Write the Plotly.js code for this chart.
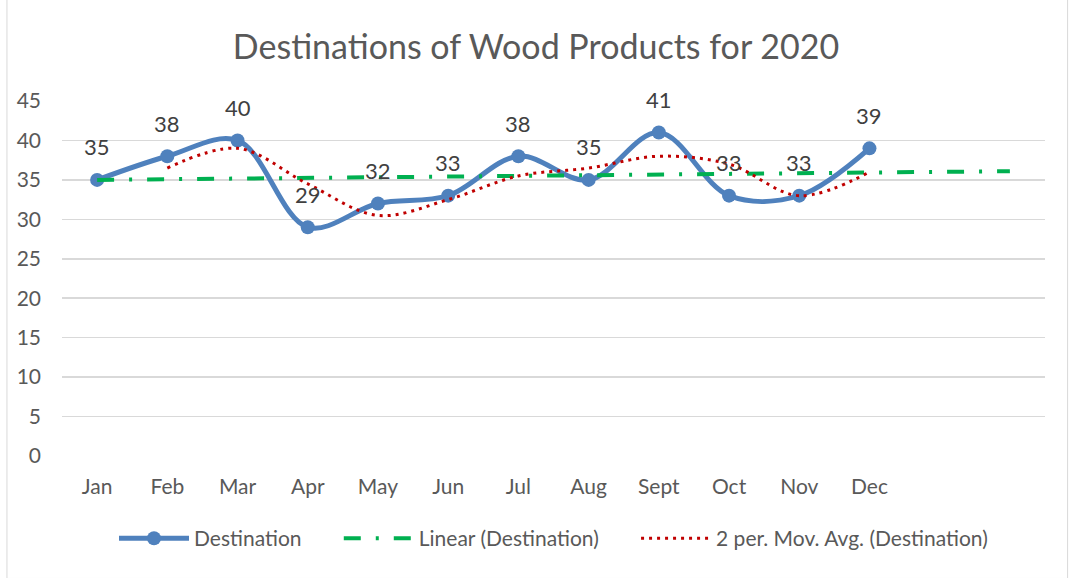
<!DOCTYPE html>
<html>
<head>
<meta charset="utf-8">
<script src="https://cdn.plot.ly/plotly-3.0.1.min.js"></script>
<style>
  html, body { margin: 0; padding: 0; background: #fff; }
  #chart { width: 1072px; height: 578px; }
</style>
</head>
<body>
<div id="chart"></div>
<script>
// Destinations of Wood Products for 2020
var months = ['Jan', 'Feb', 'Mar', 'Apr', 'May', 'Jun', 'Jul', 'Aug', 'Sept', 'Oct', 'Nov', 'Dec'];
var monthPos = [1, 2, 3, 4, 5, 6, 7, 8, 9, 10, 11, 12];
var destination = [35, 38, 40, 29, 32, 33, 38, 35, 41, 33, 33, 39];

// linear trendline, forecast 2 periods forward
var trendPos = [1, 14];
var trendVal = [35.0, 36.1];

// 2 period moving average (starts at Feb)
var maPos = [2, 3, 4, 5, 6, 7, 8, 9, 10, 11, 12];
var maVal = [36.5, 39, 34.5, 30.5, 32.5, 35.5, 36.5, 38, 37, 33, 36];

var font = 'Lato, "Open Sans", sans-serif';
var textColor = '#595959';
var pad = '\u00a0\u00a0\u00a0\u00a0\u00a0\u00a0';

var main = {
  x: monthPos,
  y: destination,
  mode: 'lines+markers',
  type: 'scatter',
  line: {color: '#4f81bd', width: 5, shape: 'spline', smoothing: 1},
  marker: {color: '#4f81bd', size: 14},
  name: 'Destination' + pad
};
var linear = {
  x: trendPos,
  y: trendVal,
  mode: 'lines',
  type: 'scatter',
  line: {color: '#00b050', width: 4, dash: '17px,15px,3px,15px'},
  name: 'Linear (Destination)' + pad
};
var movAvg = {
  x: maPos,
  y: maVal,
  mode: 'lines',
  type: 'scatter',
  line: {color: '#c00000', width: 3, dash: '3px,5px', shape: 'spline', smoothing: 1},
  name: '2 per. Mov. Avg. (Destination)'
};

var labels = destination.map(function (v, i) {
  return {
    x: monthPos[i], y: v, text: String(v),
    showarrow: false, yshift: 33, yanchor: 'middle',
    font: {family: font, size: 22, color: '#404040'}
  };
});

var layout = {
  width: 1072,
  height: 578,
  paper_bgcolor: '#fff',
  plot_bgcolor: '#fff',
  margin: {l: 62, r: 27, t: 101, b: 122},
  title: {
    text: 'Destinations of Wood Products for 2020',
    font: {family: font, size: 34, color: textColor},
    x: 0.5, xanchor: 'center', y: 0.918, yanchor: 'middle'
  },
  xaxis: {
    range: [0.5, 14.5],
    tickvals: monthPos,
    ticktext: months,
    showgrid: false,
    zeroline: false,
    showline: false,
    ticks: '',
    ticklabelstandoff: 16,
    tickfont: {family: font, size: 21, color: textColor}
  },
  yaxis: {
    range: [0, 45],
    dtick: 5,
    gridcolor: '#d9d9d9',
    gridwidth: 1.5,
    zeroline: false,
    showline: false,
    ticks: '',
    ticklabelstandoff: 20,
    tickfont: {family: font, size: 21, color: textColor}
  },
  showlegend: true,
  legend: {
    orientation: 'h',
    x: 0.5, xanchor: 'center',
    y: -0.175, yanchor: 'top',
    font: {family: font, size: 21, color: textColor},
    itemwidth: 70
  },
  annotations: labels,
  shapes: [{
    type: 'rect', xref: 'paper', yref: 'paper',
    x0: -0.056, x1: 1.023, y0: -0.345, y1: 1.29,
    line: {color: '#d9d9d9', width: 1}
  }]
};

Plotly.newPlot('chart', [main, linear, movAvg], layout, {displayModeBar: false, staticPlot: true});
</script>
</body>
</html>
